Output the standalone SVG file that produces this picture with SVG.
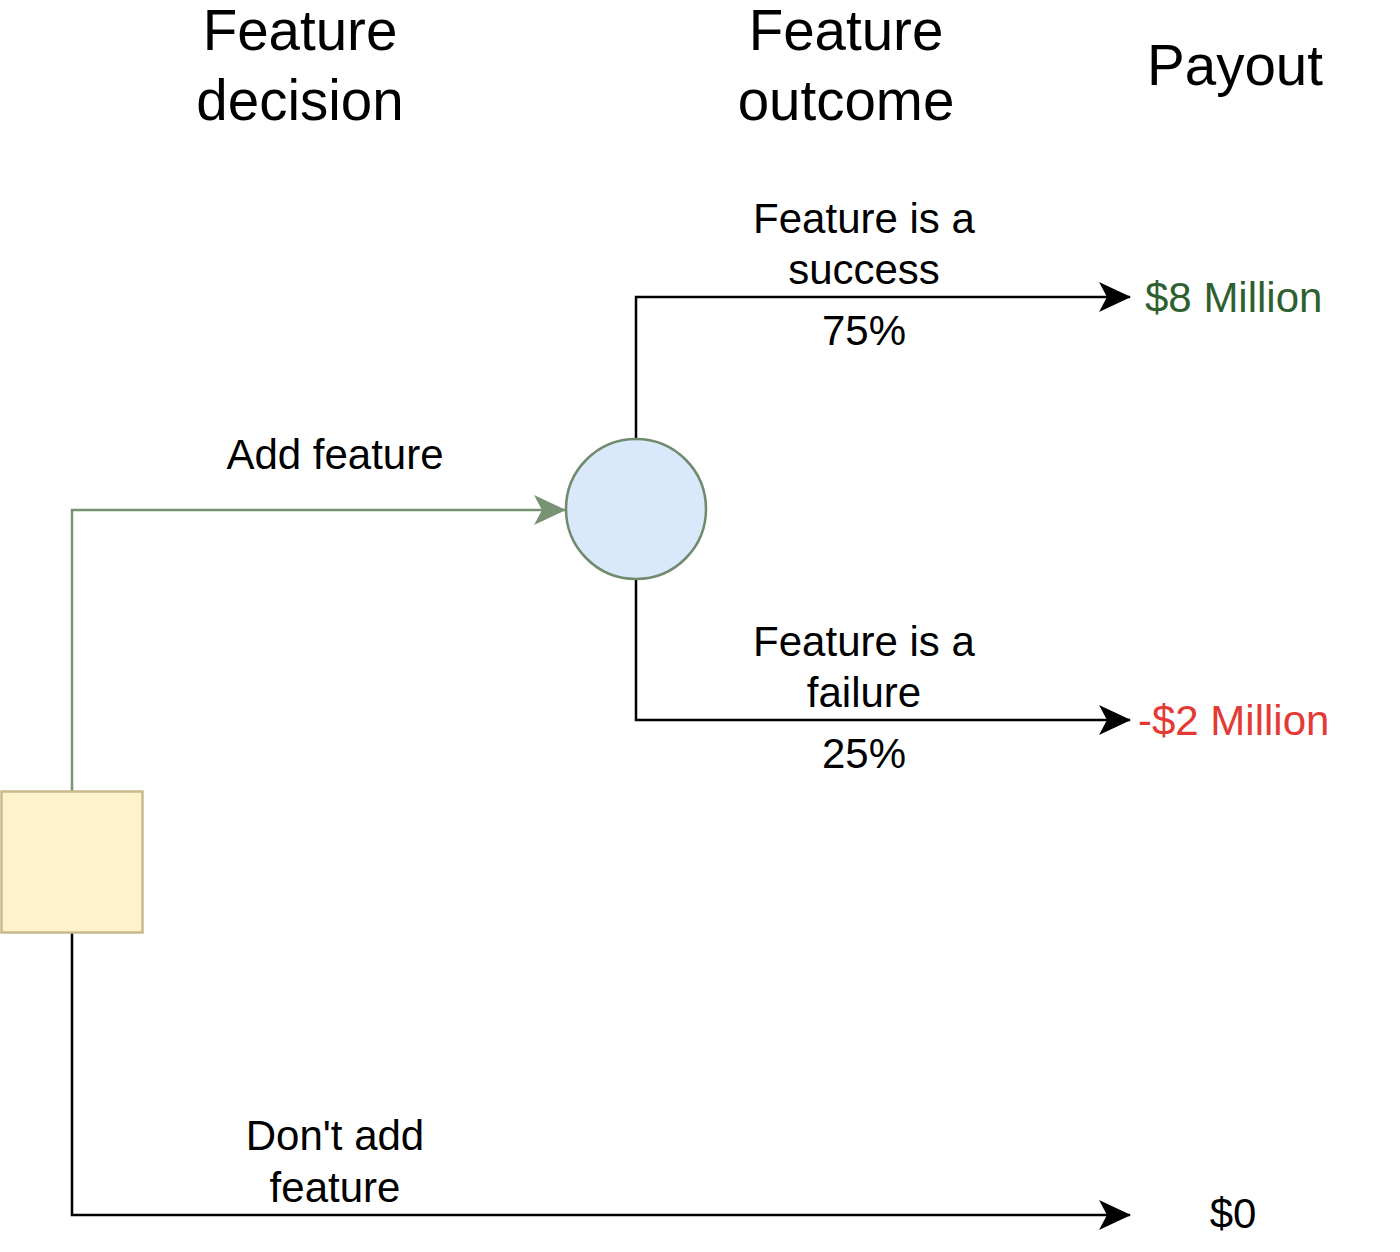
<svg xmlns="http://www.w3.org/2000/svg" width="1400" height="1252" viewBox="0 0 1400 1252">
  <style>
    text { font-family: "Liberation Sans", Arial, sans-serif; fill: #000; }
    .hdr { font-size: 56.5px; text-anchor: middle; }
    .lbl { font-size: 42px; text-anchor: middle; }
    .pay { font-size: 42px; }
    .edge { fill: none; stroke: #000; stroke-width: 2.5; }
    .edge-g { fill: none; stroke: #7a9274; stroke-width: 2.5; }
  </style>
  <defs>
    <marker id="arrowK" viewBox="0 0 32 30" refX="31" refY="15" markerWidth="32" markerHeight="30" markerUnits="userSpaceOnUse" orient="auto">
      <path d="M0,0 L32,15 L0,30 L8,15 Z" fill="#000"/>
    </marker>
    <marker id="arrowG" viewBox="0 0 32 30" refX="31" refY="15" markerWidth="32" markerHeight="30" markerUnits="userSpaceOnUse" orient="auto">
      <path d="M0,0 L32,15 L0,30 L8,15 Z" fill="#7a9274"/>
    </marker>
  </defs>

  <!-- column headers -->
  <g id="headers">
    <text class="hdr" x="300" y="50">Feature</text>
    <text class="hdr" x="300" y="120">decision</text>
    <text class="hdr" x="846" y="50">Feature</text>
    <text class="hdr" x="846" y="120">outcome</text>
    <text class="hdr" x="1235" y="85">Payout</text>
  </g>

  <!-- connectors -->
  <g id="connectors">
    <path class="edge-g" d="M72,791 V510 H565" marker-end="url(#arrowG)"/>
    <path class="edge" d="M636,439 V297 H1130" marker-end="url(#arrowK)"/>
    <path class="edge" d="M636,580 V720 H1130" marker-end="url(#arrowK)"/>
    <path class="edge" d="M72,933 V1215 H1130" marker-end="url(#arrowK)"/>
  </g>

  <!-- decision node -->
  <g id="decision">
    <rect x="1.5" y="791.5" width="141" height="141" fill="#fff2cc" stroke="#c9b98c" stroke-width="2.5"/>
  </g>

  <!-- chance node -->
  <g id="chance">
    <circle cx="636" cy="509" r="70" fill="#dae8fc" stroke="#6f8a6c" stroke-width="2.5"/>
  </g>

  <!-- branch labels -->
  <g id="label-add">
    <text class="lbl" x="335" y="469">Add feature</text>
  </g>
  <g id="label-success">
    <text class="lbl" x="864" y="233">Feature is a</text>
    <text class="lbl" x="864" y="284">success</text>
    <text class="lbl" x="864" y="345">75%</text>
  </g>
  <g id="label-failure">
    <text class="lbl" x="864" y="656">Feature is a</text>
    <text class="lbl" x="864" y="707">failure</text>
    <text class="lbl" x="864" y="768">25%</text>
  </g>
  <g id="label-dont">
    <text class="lbl" x="335" y="1150">Don't add</text>
    <text class="lbl" x="335" y="1202">feature</text>
  </g>

  <!-- payouts -->
  <g id="payout-success">
    <text class="pay" x="1145" y="312" style="fill:#2f5f2f">$8 Million</text>
  </g>
  <g id="payout-failure">
    <text class="pay" x="1138" y="735" style="fill:#e53935">-$2 Million</text>
  </g>
  <g id="payout-none">
    <text class="pay" x="1233" y="1228" text-anchor="middle">$0</text>
  </g>
</svg>
